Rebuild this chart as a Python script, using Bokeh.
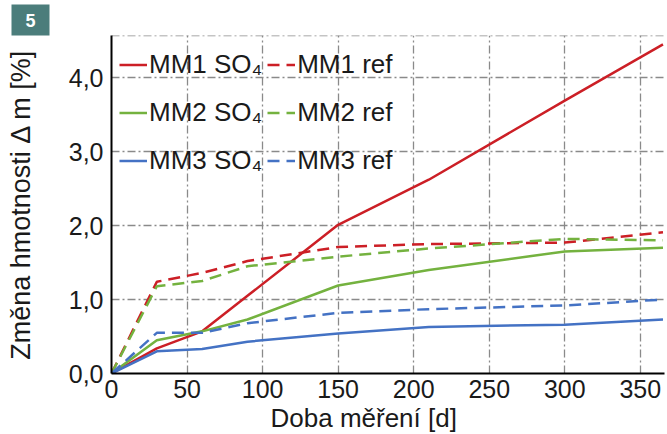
from bokeh.plotting import figure
from bokeh.models import Range1d, FixedTicker, Legend, LegendItem, Title
from bokeh.embed import file_html
from bokeh.resources import INLINE

# ---- data ----
days = [0, 30, 60, 90, 150, 210, 300, 365]
mm1_so4 = [0, 0.34, 0.57, 1.05, 2.01, 2.62, 3.69, 4.45]
mm1_ref = [0, 1.24, 1.36, 1.52, 1.71, 1.75, 1.77, 1.91]
mm2_so4 = [0, 0.45, 0.57, 0.73, 1.19, 1.40, 1.65, 1.70]
mm2_ref = [0, 1.18, 1.25, 1.45, 1.58, 1.69, 1.82, 1.80]
mm3_so4 = [0, 0.30, 0.33, 0.43, 0.54, 0.63, 0.66, 0.73]
mm3_ref = [0, 0.55, 0.55, 0.68, 0.82, 0.87, 0.92, 1.00]

x_ticks = [0, 50, 100, 150, 200, 250, 300, 350]
y_ticks = [0, 1, 2, 3, 4]
y_tick_labels = ["0,0", "1,0", "2,0", "3,0", "4,0"]

x_title = "Doba měření [d]"
y_title = "Změna hmotnosti Δ m [%]"
badge = "5"

RED = "#cc1f26"
GREEN = "#74b23f"
BLUE = "#4472c4"
FONT = "Liberation Sans"
TXT = "#1a1a1a"

p = figure(width=667, height=434, output_backend="svg", toolbar_location=None,
           x_range=Range1d(0, 366), y_range=Range1d(0, 4.57),
           min_border_left=111, min_border_right=3, min_border_top=35, min_border_bottom=61)
p.outline_line_color = None
p.background_fill_color = "white"

# axes
for ax in (p.xaxis[0], p.yaxis[0]):
    ax.axis_line_color = "black"
    ax.axis_line_width = 2
    ax.major_tick_line_color = None
    ax.minor_tick_line_color = None
    ax.major_tick_out = 0
    ax.major_tick_in = 0
    ax.minor_tick_out = 0
    ax.major_label_text_font = FONT
    ax.major_label_text_font_size = "25px"
    ax.major_label_text_color = TXT
p.xaxis.ticker = FixedTicker(ticks=x_ticks)
p.yaxis.ticker = FixedTicker(ticks=y_ticks)
p.yaxis.major_label_overrides = {t: l for t, l in zip(y_ticks, y_tick_labels)}
p.xaxis.major_label_standoff = 6
p.yaxis.major_label_standoff = 8

# y axis title
p.yaxis.axis_label = y_title
p.yaxis.axis_label_standoff = 30
p.yaxis.axis_label_text_font = FONT
p.yaxis.axis_label_text_font_size = "27px"
p.yaxis.axis_label_text_font_style = "normal"
p.yaxis.axis_label_text_color = TXT

# grid (dash-dot)
p.xgrid.ticker = FixedTicker(ticks=x_ticks[1:])
p.ygrid.ticker = FixedTicker(ticks=y_ticks[1:] + [4.565])
for g in (p.xgrid[0], p.ygrid[0]):
    g.grid_line_color = "#8a8a8a"
    g.grid_line_width = 1.3
    g.grid_line_dash = "8 3 2 3"

lw = 2.5
dash = "12 7"
r1 = p.line(days, mm1_so4, line_color=RED, line_width=lw)
r2 = p.line(days, mm2_so4, line_color=GREEN, line_width=lw)
r3 = p.line(days, mm3_so4, line_color=BLUE, line_width=lw)
r4 = p.line(days, mm1_ref, line_color=RED, line_width=lw, line_dash=dash)
r5 = p.line(days, mm2_ref, line_color=GREEN, line_width=lw, line_dash=dash)
r6 = p.line(days, mm3_ref, line_color=BLUE, line_width=lw, line_dash=dash)

legend = Legend(items=[
    LegendItem(label="MM1 SO₄", renderers=[r1]),
    LegendItem(label="MM2 SO₄", renderers=[r2]),
    LegendItem(label="MM3 SO₄", renderers=[r3]),
    LegendItem(label="MM1 ref", renderers=[r4]),
    LegendItem(label="MM2 ref", renderers=[r5]),
    LegendItem(label="MM3 ref", renderers=[r6]),
], location=(8, 191), ncols=2, orientation="vertical",
    border_line_color=None, background_fill_alpha=0,
    glyph_width=28, glyph_height=43, label_height=43, label_standoff=2, spacing=5,
    padding=10, margin=0,
    label_text_font=FONT, label_text_font_size="26px", label_text_color=TXT)
p.add_layout(legend)

# x axis title as a side-panel title
p.add_layout(Title(text=x_title, align="left", offset=159, standoff=0,
                   text_font=FONT, text_font_size="26px", text_font_style="normal",
                   text_line_height=0.8, text_color=TXT), "below")
# badge
p.add_layout(Title(text=badge, align="left", offset=-100, standoff=0, vertical_align="bottom",
                   text_font=FONT, text_font_size="18px", text_font_style="bold",
                   text_color="white", background_fill_color="#4b7d7b",
                   padding=(14, 9)), "above")

open("out.html", "w").write(file_html(p, INLINE))
